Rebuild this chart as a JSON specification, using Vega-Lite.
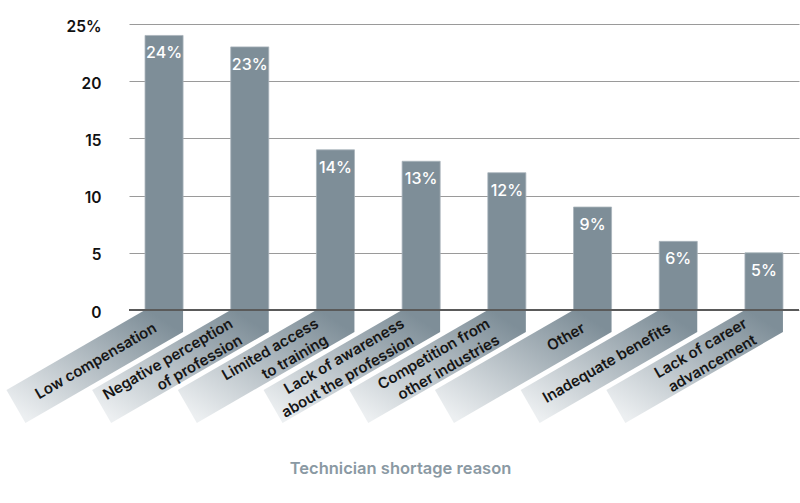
{
  "$schema": "https://vega.github.io/schema/vega-lite/v6.json",
  "autosize": {"type": "none"},
  "padding": {"left": 129, "top": 24, "right": 1, "bottom": 193},
  "width": 670,
  "height": 286,
  "background": "white",
  "config": {"view": {"stroke": null}, "font": "Inter"},
  "data": {
    "values": [
      {"reason": "Low compensation", "value": 24, "label": "Low compensation"},
      {"reason": "Negative perception of profession", "value": 23, "label": ["Negative perception", "of profession"]},
      {"reason": "Limited access to training", "value": 14, "label": ["Limited access", "to training"]},
      {"reason": "Lack of awareness about the profession", "value": 13, "label": ["Lack of awareness", "about the profession"]},
      {"reason": "Competition from other industries", "value": 12, "label": ["Competition from", "other industries"]},
      {"reason": "Other", "value": 9, "label": "Other"},
      {"reason": "Inadequate benefits", "value": 6, "label": "Inadequate benefits"},
      {"reason": "Lack of career advancement", "value": 5, "label": ["Lack of career", "advancement"]}
    ]
  },
  "encoding": {
    "x": {
      "field": "reason",
      "type": "nominal",
      "sort": null,
      "scale": {"paddingInner": 0.556, "paddingOuter": 0.187},
      "axis": {
        "labels": false,
        "ticks": false,
        "domain": false,
        "title": "Technician shortage reason",
        "titleFont": "Inter",
        "titleFontSize": 16.5,
        "titleFontWeight": 600,
        "titleColor": "#8a99a3",
        "titleX": 271,
        "titleY": 158,
        "titleAlign": "center",
        "titleBaseline": "middle"
      }
    }
  },
  "layer": [
    {
      "mark": {
        "type": "point",
        "shape": "M-19,0 L19,0 L19,22 L-138.6,112.9 L-157.6,80 Z",
        "size": 4,
        "filled": true,
        "opacity": 1,
        "strokeWidth": 0,
        "fill": {
          "gradient": "linear",
          "x1": 1, "y1": 0, "x2": 0, "y2": 1,
          "stops": [
            {"offset": 0.1, "color": "#7e8e98"},
            {"offset": 0.92, "color": "#eceff1"}
          ]
        }
      },
      "encoding": {
        "y": {"datum": 0, "type": "quantitative"}
      }
    },
    {
      "mark": {"type": "bar", "color": "#7e8e98", "stroke": "#a9b4bb", "strokeWidth": 0.8},
      "encoding": {
        "y": {
          "field": "value",
          "type": "quantitative",
          "scale": {"domain": [0, 25], "nice": false},
          "axis": {
            "values": [0, 5, 10, 15, 20, 25],
            "labelExpr": "datum.value == 25 ? '25%' : datum.label",
            "labelFont": "Inter",
            "labelFontSize": 15.5,
            "labelFontWeight": 600,
            "labelColor": "#111111",
            "labelPadding": 28,
            "labelOffset": 2,
            "ticks": false,
            "domain": false,
            "grid": true,
            "gridColor": "#9a9a9a",
            "gridWidth": 1.2,
            "title": null
          }
        }
      }
    },
    {
      "mark": {"type": "rule", "color": "#5a5a5a", "strokeWidth": 2},
      "encoding": {"y": {"datum": 0, "type": "quantitative"}, "x": null}
    },
    {
      "mark": {
        "type": "text",
        "color": "white",
        "font": "Inter",
        "fontSize": 16,
        "fontWeight": 500,
        "baseline": "middle",
        "dy": 18,
        "text": {"expr": "datum.value + '%'"}
      },
      "encoding": {
        "y": {"field": "value", "type": "quantitative"}
      }
    },
    {
      "transform": [{"filter": "!isArray(datum.label)"}],
      "mark": {
        "type": "text",
        "color": "#161616",
        "font": "Inter",
        "fontSize": 15,
        "fontWeight": 600,
        "align": "right",
        "baseline": "middle",
        "angle": -30,
        "dx": -16,
        "dy": 10
      },
      "encoding": {
        "y": {"datum": 0, "type": "quantitative"},
        "text": {"field": "label"}
      }
    },
    {
      "transform": [{"filter": "isArray(datum.label)"}],
      "mark": {
        "type": "text",
        "color": "#161616",
        "font": "Inter",
        "fontSize": 15,
        "fontWeight": 600,
        "align": "right",
        "baseline": "middle",
        "angle": -30,
        "lineHeight": 19,
        "dx": -22,
        "dy": 1.5
      },
      "encoding": {
        "y": {"datum": 0, "type": "quantitative"},
        "text": {"field": "label"}
      }
    }
  ]
}
